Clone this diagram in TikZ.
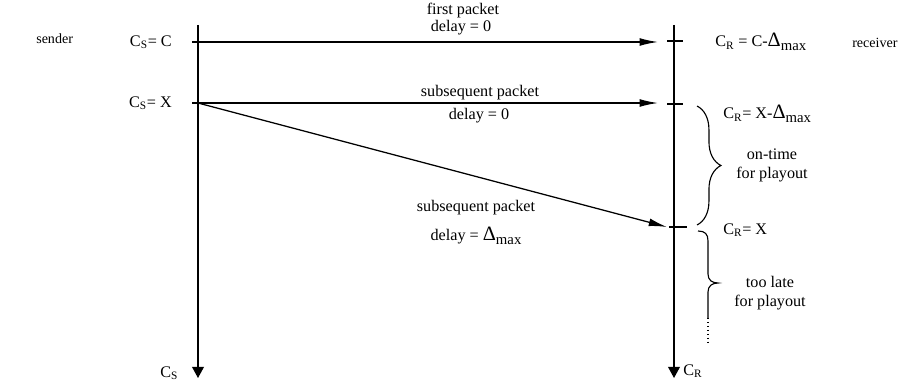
\documentclass[tikz,border=0pt]{standalone}
\usepackage{fontspec}
\setmainfont{Liberation Serif}
\usetikzlibrary{arrows.meta,decorations.pathreplacing}

\newcommand{\Dmax}{{\fontsize{14.5}{14.5}\selectfont Δ}\raisebox{-0.45ex}{\fontsize{10.5}{10.5}\selectfont max}}

\tikzset{
  lbl/.style={font=\fontsize{11.5}{13.5}\selectfont, inner sep=0pt},
  side/.style={font=\fontsize{10}{12}\selectfont, inner sep=0pt},
  msg/.style={-{Latex[length=13pt,width=5.5pt]}, line width=0.9pt},
  axis/.style={-{Triangle[length=8pt,width=8.5pt]}, line width=0.9pt},
  tick/.style={line width=0.9pt},
}

\begin{document}
\begin{tikzpicture}[x=0.025cm,y=-0.025cm]
\useasboundingbox (0,0) rectangle (918,387);

% Zeitachsen sender / receiver
\coordinate (sTop) at (198,25);
\coordinate (sBot) at (198,378);
\coordinate (rTop) at (674,25);
\coordinate (rBot) at (674,378);
\draw[axis] (sTop) -- (sBot);
\draw[axis] (rTop) -- (rBot);
\node[lbl, anchor=west] (csEnd) at (160,373) {C\textsubscript{S}};
\node[lbl, anchor=west] (crEnd) at (683,371) {C\textsubscript{R}};

\node[side, anchor=west] (sender) at (36,39) {sender};
\node[side, anchor=west] (receiver) at (852,43) {receiver};

% erstes Paket
\coordinate (s1) at (192,42);
\coordinate (r1) at (658,42);
\draw[msg] (s1) -- (r1);
\draw[tick] (667,41) -- (683,41);
\node[lbl, anchor=east] (cs1) at (172,42) {C\textsubscript{S}= C};
\node[lbl] (p1a) at (463,11) {first packet};
\node[lbl] (p1b) at (461,28) {delay = 0};
\node[lbl, anchor=west] (cr1) at (715,42) {C\textsubscript{R} = C-\Dmax};

% zweites Paket, ohne Verzoegerung
\coordinate (s2) at (192,103);
\coordinate (s2a) at (198,103);
\coordinate (r2) at (658,103);
\draw[msg] (s2) -- (r2);
\draw[tick] (667,104) -- (683,104);
\node[lbl, anchor=east] (cs2) at (172,103) {C\textsubscript{S}= X};
\node[lbl] (p2a) at (480,93) {subsequent packet};
\node[lbl] (p2b) at (479,116) {delay = 0};
\node[lbl, anchor=west] (cr2) at (723,114) {C\textsubscript{R}= X-\Dmax};

% zweites Paket, maximale Verzoegerung
\coordinate (r3) at (667,227);
\draw[msg] (s2a) -- (r3);
\draw[tick] (669,227) -- (687,227);
\node[lbl] (p3a) at (476,208) {subsequent packet};
\node[lbl] (p3b) at (476,236) {delay = \Dmax};
\node[lbl, anchor=west] (cr3) at (723,230) {C\textsubscript{R}= X};

% Klammer: rechtzeitig
\draw[line width=0.8pt, decorate, decoration={brace, amplitude=17pt}] (697,106) -- (697,225);
\node[lbl, align=center] (ontime) at (772,165) {on-time\\for playout};

% Klammer: zu spaet
\draw[line width=0.8pt] (698,231) .. controls (705,231) and (708,234) .. (708,241)
  -- (708,274) .. controls (708,280) and (712,283) .. (718,283)
  .. controls (712,283) and (708,286) .. (708,292) -- (708,318);
\draw[line width=0.8pt, dotted] (708,318) -- (708,345);
\node[lbl, align=center] (late) at (770,293) {too late\\for playout};

\end{tikzpicture}
\end{document}
